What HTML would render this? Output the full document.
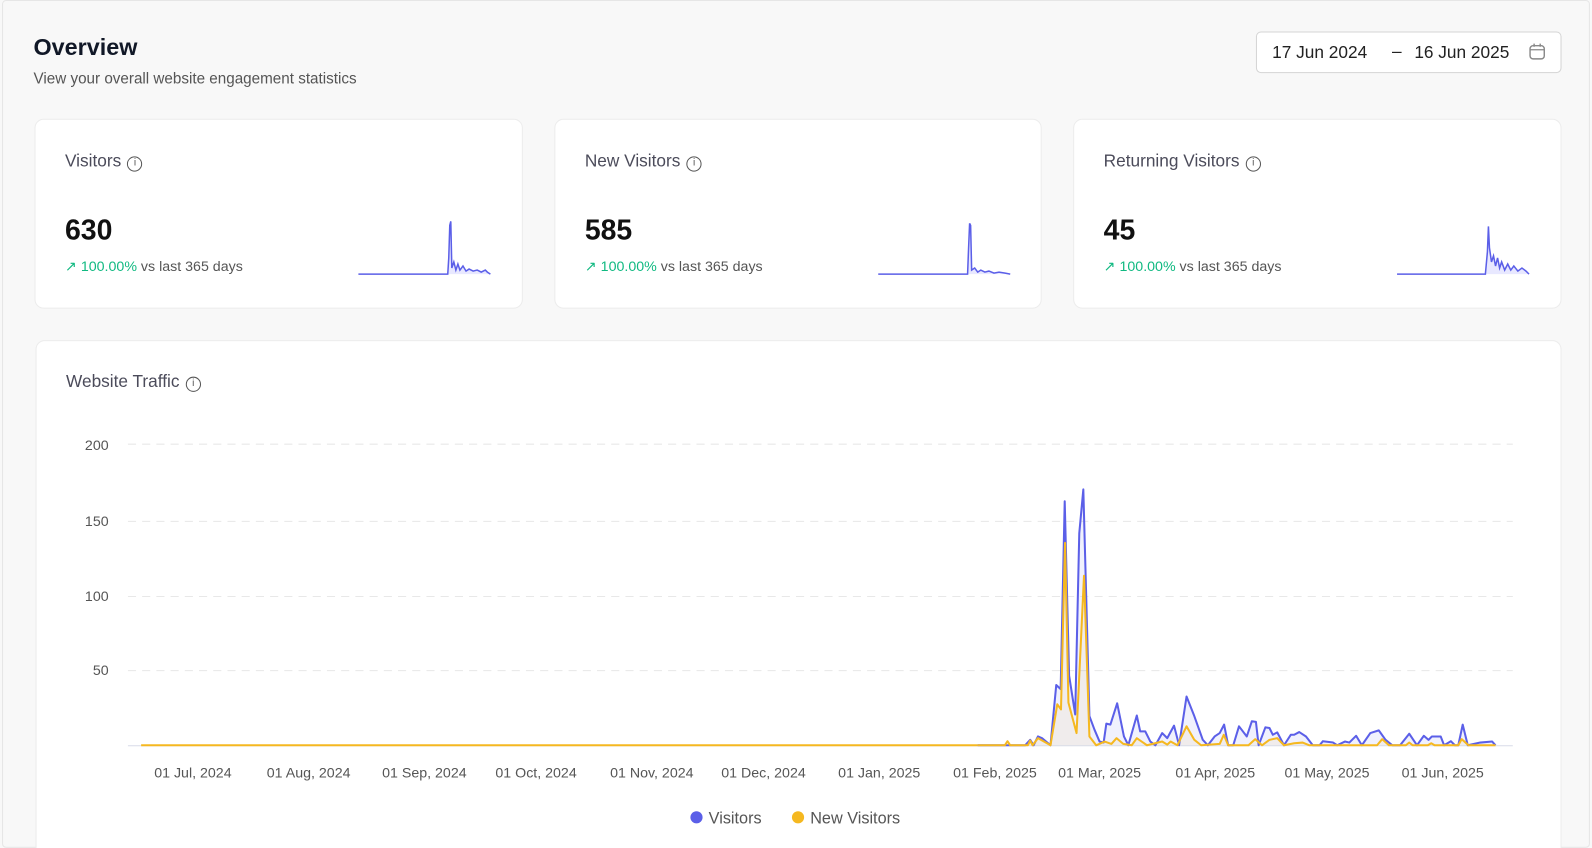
<!DOCTYPE html>
<html style="overflow:hidden;width:1592px;height:848px"><head><meta charset="utf-8"><style>
*{box-sizing:border-box;margin:0;padding:0}
body{width:1592px;height:848px;background:#f8f8f8;font-family:"Liberation Sans",sans-serif;overflow:hidden;color:#1a1a2e;position:relative}
#clip{position:absolute;left:0;top:0;width:1592px;height:848px;overflow:hidden}
#w{position:absolute;left:0;top:0;width:1568px;height:835px;transform:scale(1.0153);transform-origin:0 0}
.frame{position:absolute;left:2px;top:0;width:1564px;height:835px;border:1px solid #e6e6e6;border-radius:4px}
h1{position:absolute;left:33px;top:33px;font-size:23px;font-weight:bold;color:#111827}
.sub{position:absolute;left:33px;top:69px;font-size:15px;color:#555}
.date{position:absolute;left:1237px;top:31px;width:301px;height:41px;background:#fff;border:1px solid #d4d4d4;border-radius:5px;font-size:17px;color:#222}
.card{position:absolute;background:#fff;border:1px solid #ececec;border-radius:9px}
.ct{position:absolute;left:29px;top:31px;font-size:17px;color:#4b4b5a}
.info{display:inline-block;width:15px;height:15px;border:1.3px solid #555;border-radius:50%;font-size:10px;text-align:center;line-height:12px;vertical-align:1px;margin-left:6px;color:#555}
.num{position:absolute;left:29px;top:93px;font-size:28px;font-weight:bold;color:#111}
.pct{position:absolute;left:29px;top:136px;font-size:14px;color:#555}
.pct b{color:#10b981;font-weight:normal}
.spark{position:absolute;left:317px;top:96px}
.axis{font-size:14px;fill:#555;font-family:"Liberation Sans",sans-serif}
</style></head><body><div id="clip"><div id="w">
<div class="frame"></div>
<h1>Overview</h1>
<div class="sub">View your overall website engagement statistics</div>
<div class="date"><span style="position:absolute;left:15px;top:10px">17 Jun 2024</span><span style="position:absolute;left:133px;top:9px">–</span><span style="position:absolute;left:155px;top:10px">16 Jun 2025</span>
<svg style="position:absolute;left:267px;top:10px" width="18" height="18" viewBox="0 0 18 18"><rect x="2" y="3" width="14" height="13" rx="3" fill="none" stroke="#888" stroke-width="1.4"/><line x1="2" y1="7" x2="16" y2="7" stroke="#888" stroke-width="1.3"/><line x1="6" y1="1" x2="6" y2="4" stroke="#888" stroke-width="1.4"/><line x1="12" y1="1" x2="12" y2="4" stroke="#888" stroke-width="1.4"/></svg></div>

<div class="card" style="left:34px;top:117px;width:481px;height:187px">
<div class="ct">Visitors<span class="info">i</span></div><div class="num">630</div>
<div class="pct"><b>↗ 100.00%</b> vs last 365 days</div>
<svg class="spark" width="134" height="60"><path d="M1,56 L89,56 L90,40 L91,8 L92,4 L93,50 L95,44 L97,52 L99,46 L101,52 L104,48 L107,53 L110,51 L114,53 L118,52 L122,54 L126,52 L128,54 L131,56" fill="#e8e8ff" stroke="#5b5fe8" stroke-width="1.5"/></svg>
</div>
<div class="card" style="left:546px;top:117px;width:480px;height:187px">
<div class="ct">New Visitors<span class="info">i</span></div><div class="num">585</div>
<div class="pct"><b>↗ 100.00%</b> vs last 365 days</div>
<svg class="spark" width="134" height="60"><path d="M1,56 L89,56 L90,30 L91,6 L92,8 L93,52 L96,50 L99,54 L102,52 L106,54 L110,53 L115,55 L120,54 L126,55 L131,56" fill="#e8e8ff" stroke="#5b5fe8" stroke-width="1.5"/></svg>
</div>
<div class="card" style="left:1057px;top:117px;width:481px;height:187px">
<div class="ct">Returning Visitors<span class="info">i</span></div><div class="num">45</div>
<div class="pct"><b>↗ 100.00%</b> vs last 365 days</div>
<svg class="spark" width="134" height="60"><path d="M1,56 L88,56 L90,34 L91,9 L92,30 L94,44 L96,38 L98,48 L100,40 L102,50 L104,44 L107,52 L110,46 L113,52 L116,48 L120,53 L124,50 L128,53 L131,56" fill="#e8e8ff" stroke="#5b5fe8" stroke-width="1.5"/></svg>
</div>

<div class="card" style="left:35px;top:335px;width:1503px;height:540px">
<div class="ct" style="top:30px">Website Traffic<span class="info">i</span></div></div>

<svg style="position:absolute;left:0;top:0" width="1568" height="835">
<g stroke="#e8e8e8" stroke-dasharray="8,6" stroke-width="1">
<line x1="126" y1="437.5" x2="1490" y2="437.5"/><line x1="126" y1="513.5" x2="1490" y2="513.5"/><line x1="126" y1="587.5" x2="1490" y2="587.5"/><line x1="126" y1="660.5" x2="1490" y2="660.5"/></g>
<line x1="126" y1="734.5" x2="1490" y2="734.5" stroke="#d8dce8"/>
<g class="axis" text-anchor="end"><text x="107" y="443">200</text><text x="107" y="518">150</text><text x="107" y="592">100</text><text x="107" y="665">50</text></g>
<g class="axis" text-anchor="middle">
<text x="190" y="766">01 Jul, 2024</text><text x="304" y="766">01 Aug, 2024</text><text x="418" y="766">01 Sep, 2024</text><text x="528" y="766">01 Oct, 2024</text><text x="642" y="766">01 Nov, 2024</text><text x="752" y="766">01 Dec, 2024</text><text x="866" y="766">01 Jan, 2025</text><text x="980" y="766">01 Feb, 2025</text><text x="1083" y="766">01 Mar, 2025</text><text x="1197" y="766">01 Apr, 2025</text><text x="1307" y="766">01 May, 2025</text><text x="1421" y="766">01 Jun, 2025</text></g>
<line x1="139" y1="734" x2="963" y2="734" stroke="#f5b820" stroke-width="2"/>
<g transform="translate(963,458.7) scale(0.33333)">
<path fill="#5b5fe8" fill-opacity="0.09" stroke="#5b5fe8" stroke-width="2" vector-effect="non-scaling-stroke" stroke-linejoin="round" d="M0,826 L140,826 L155,810 L165,826 L178,800 L190,805 L215,826 L232,648 L245,660 L257,105 L270,620 L288,735 L300,200 L312,70 L330,740 L345,780 L360,815 L372,818 L380,762 L392,765 L412,702 L432,800 L445,826 L470,738 L480,785 L495,785 L510,815 L525,826 L545,790 L560,805 L580,768 L595,826 L617,682 L640,740 L665,810 L680,826 L700,800 L715,790 L728,765 L740,826 L755,826 L772,770 L795,800 L810,755 L822,757 L830,826 L850,773 L862,775 L872,795 L885,788 L905,826 L925,795 L935,795 L950,787 L970,800 L990,826 L1010,826 L1020,814 L1050,818 L1062,826 L1085,815 L1098,818 L1118,798 L1135,826 L1160,790 L1185,782 L1205,810 L1225,826 L1248,826 L1275,792 L1298,826 L1318,798 L1332,810 L1342,800 L1368,800 L1378,826 L1398,814 L1410,826 L1420,826 L1433,765 L1448,826 L1485,818 L1520,815 L1530,826"/>
<path fill="#f5b820" fill-opacity="0.08" stroke="#f5b820" stroke-width="2" vector-effect="non-scaling-stroke" stroke-linejoin="round" d="M0,826 L80,826 L88,814 L96,826 L148,826 L155,812 L162,826 L178,805 L215,826 L235,705 L246,720 L258,228 L268,700 L292,790 L314,325 L330,800 L350,826 L375,815 L395,822 L410,805 L430,822 L455,826 L470,805 L500,826 L545,815 L560,824 L570,815 L590,826 L617,770 L640,810 L660,826 L715,822 L727,795 L740,826 L800,826 L820,808 L840,826 L862,810 L885,805 L905,826 L935,820 L960,818 L980,826 L1180,826 L1195,808 L1215,826 L1265,826 L1275,818 L1285,826 L1330,826 L1340,820 L1350,826 L1420,826 L1430,808 L1450,826 L1530,826"/>
</g>
<circle cx="686" cy="805" r="6" fill="#5b5fe8"/><text x="698" y="811" font-size="16" fill="#555" font-family="Liberation Sans,sans-serif">Visitors</text>
<circle cx="786" cy="805" r="6" fill="#f5b820"/><text x="798" y="811" font-size="16" fill="#555" font-family="Liberation Sans,sans-serif">New Visitors</text>
</svg>
</div></div></body></html>
